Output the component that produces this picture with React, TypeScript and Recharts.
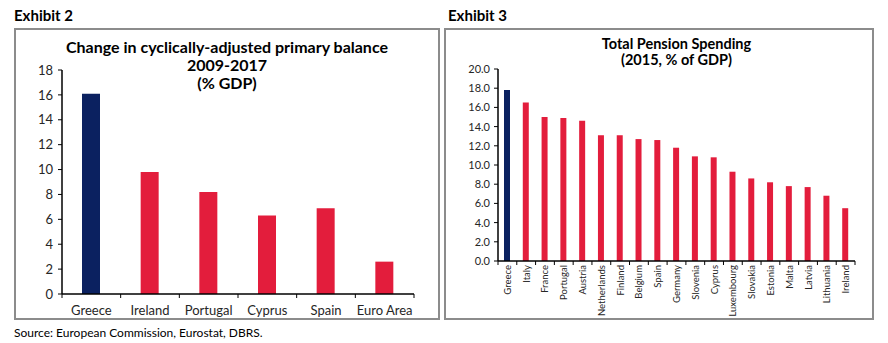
import React from 'react'
import { BarChart, Bar, XAxis, YAxis, Cell } from 'recharts'

const balanceCountries = ['Greece', 'Ireland', 'Portugal', 'Cyprus', 'Spain', 'Euro Area']
const balanceChange = [16.1, 9.8, 8.2, 6.3, 6.9, 2.6]
const balanceTicks = [0, 2, 4, 6, 8, 10, 12, 14, 16, 18]

const pensionCountries = [
  'Greece', 'Italy', 'France', 'Portugal', 'Austria', 'Netherlands', 'Finland', 'Belgium', 'Spain',
  'Germany', 'Slovenia', 'Cyprus', 'Luxembourg', 'Slovakia', 'Estonia', 'Malta', 'Latvia', 'Lithuania', 'Ireland',
]
const pensionSpending = [17.8, 16.5, 15.0, 14.9, 14.6, 13.1, 13.1, 12.7, 12.6, 11.8, 10.9, 10.8, 9.3, 8.6, 8.2, 7.8, 7.7, 6.8, 5.5]
const pensionTicks = [0, 2, 4, 6, 8, 10, 12, 14, 16, 18, 20]

const NAVY = '#0b2160'
const RED = '#e31d3c'
const FONT = 'Lato, "Open Sans", sans-serif'
const TEXT = '#262626'

const balanceData = balanceCountries.map((name, i) => ({ name, value: balanceChange[i] }))
const pensionData = pensionCountries.map((name, i) => ({ name, value: pensionSpending[i] }))

// left chart geometry
const L_W = 426
const L_H = 292
const L_YW = 48
const L_XH = 26
const L_M = { top: 42, right: 26, left: 0, bottom: 0 }
const L_AXIS_Y = L_H - L_XH
const L_BAND = (L_W - L_YW - L_M.right) / balanceCountries.length

// right chart geometry (svg taller than the box so rotated labels are not clipped)
const R_W = 430
const R_H = 292
const R_YW = 54
const R_XH = 59
const R_M = { top: 41, right: 19, left: 0, bottom: 12 }
const R_AXIS_Y = R_H - R_XH
const R_BAND = (R_W - R_YW - R_M.right) / pensionCountries.length

function BalanceTick(props: any) {
  const { x, payload, index } = props
  const last = index === balanceCountries.length - 1
  return (
    <g>
      <line x1={x - L_BAND / 2} x2={x - L_BAND / 2} y1={L_AXIS_Y} y2={L_AXIS_Y + 4} stroke="#000" />
      {last && <line x1={x + L_BAND / 2} x2={x + L_BAND / 2} y1={L_AXIS_Y} y2={L_AXIS_Y + 4} stroke="#000" />}
      <text x={x} y={L_AXIS_Y + 21} textAnchor="middle" fontSize={13} fontFamily={FONT} fill={TEXT}>
        {payload.value}
      </text>
    </g>
  )
}

function PensionTick(props: any) {
  const { x, payload, index } = props
  const last = index === pensionCountries.length - 1
  const tx = x + 3.5
  const ty = R_AXIS_Y + 4
  return (
    <g>
      <line x1={x - R_BAND / 2} x2={x - R_BAND / 2} y1={R_AXIS_Y} y2={R_AXIS_Y + 4} stroke="#000" />
      {last && <line x1={x + R_BAND / 2} x2={x + R_BAND / 2} y1={R_AXIS_Y} y2={R_AXIS_Y + 4} stroke="#000" />}
      <text
        x={tx}
        y={ty}
        textAnchor="end"
        transform={`rotate(-90, ${tx}, ${ty})`}
        fontSize={9.5}
        fontFamily={FONT}
        fill={TEXT}
      >
        {payload.value}
      </text>
    </g>
  )
}

const boxStyle: React.CSSProperties = {
  position: 'absolute',
  top: 28,
  border: '2px solid #8c8c8c',
  boxSizing: 'border-box',
  background: '#fff',
}

export default function App() {
  return (
    <div style={{ position: 'absolute', left: 0, top: 0, width: 888, height: 343, background: '#fff', fontFamily: FONT, color: '#000' }}>
      <div style={{ position: 'absolute', left: 14, top: 6, fontSize: 15, fontWeight: 700, lineHeight: '18px' }}>Exhibit 2</div>
      <div style={{ position: 'absolute', left: 448, top: 6, fontSize: 15, fontWeight: 700, lineHeight: '18px' }}>Exhibit 3</div>

      <div style={{ ...boxStyle, left: 14, width: L_W, height: L_H }}>
        <div style={{ position: 'absolute', left: 0, top: 8, width: L_W - 4, textAlign: 'center', fontSize: 16, fontWeight: 700, lineHeight: '18px' }}>
          Change in cyclically-adjusted primary balance
          <br />
          2009-2017
          <br />
          (% GDP)
        </div>
        <div style={{ position: 'absolute', left: -2, top: -2 }}>
          <BarChart width={L_W} height={L_H} data={balanceData} margin={L_M}>
            <XAxis
              dataKey="name"
              height={L_XH}
              axisLine={{ stroke: '#000', strokeWidth: 1.5 }}
              tickLine={false}
              tick={<BalanceTick />}
              interval={0}
            />
            <YAxis
              width={L_YW}
              domain={[0, 18]}
              ticks={balanceTicks}
              interval={0}
              axisLine={{ stroke: '#000', strokeWidth: 1.5 }}
              tickLine={{ stroke: '#000' }}
              tickSize={4}
              tickMargin={5}
              tick={{ fontSize: 13, fontFamily: FONT, fill: TEXT }}
            />
            <Bar dataKey="value" barSize={18} isAnimationActive={false}>
              {balanceData.map((d, i) => (
                <Cell key={d.name} fill={i === 0 ? NAVY : RED} />
              ))}
            </Bar>
          </BarChart>
        </div>
      </div>

      <div style={{ ...boxStyle, left: 444, width: R_W, height: R_H }}>
        <div style={{ position: 'absolute', left: R_YW - 2, top: 6, width: R_W - R_YW - R_M.right, textAlign: 'center', fontSize: 14.5, fontWeight: 700, lineHeight: '16px' }}>
          Total Pension Spending
          <br />
          (2015, % of GDP)
        </div>
        <div style={{ position: 'absolute', left: -2, top: -2 }}>
          <BarChart width={R_W} height={R_H + R_M.bottom} data={pensionData} margin={R_M}>
            <XAxis
              dataKey="name"
              height={R_XH}
              axisLine={{ stroke: '#000', strokeWidth: 1.5 }}
              tickLine={false}
              tick={<PensionTick />}
              interval={0}
            />
            <YAxis
              width={R_YW}
              domain={[0, 20]}
              ticks={pensionTicks}
              interval={0}
              axisLine={{ stroke: '#000', strokeWidth: 1.5 }}
              tickLine={{ stroke: '#000' }}
              tickSize={4}
              tickMargin={4}
              tickFormatter={(v: number) => v.toFixed(1)}
              tick={{ fontSize: 11, fontFamily: FONT, fill: TEXT }}
            />
            <Bar dataKey="value" barSize={6} isAnimationActive={false}>
              {pensionData.map((d, i) => (
                <Cell key={d.name} fill={i === 0 ? NAVY : RED} />
              ))}
            </Bar>
          </BarChart>
        </div>
      </div>

      <div style={{ position: 'absolute', left: 14, top: 325, fontSize: 12, lineHeight: '16px' }}>
        Source: European Commission, Eurostat, DBRS.
      </div>
    </div>
  )
}
